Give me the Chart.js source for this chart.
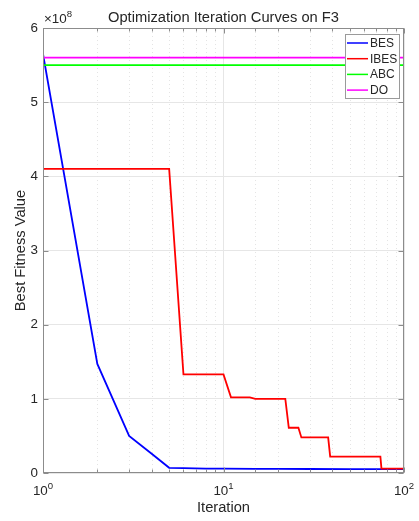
<!DOCTYPE html>
<html>
<head>
<meta charset="utf-8">
<script src="https://cdn.jsdelivr.net/npm/chart.js@4"></script>
<style>
  html, body { margin: 0; padding: 0; background: #fff; }
  #wrap { width: 419px; height: 521px; }
</style>
</head>
<body>
<div id="wrap"><canvas id="chart" width="419" height="521"></canvas></div>
<script>
// values (iteration -> best fitness)
let besIter = [1, 2, 3, 4, 5, 6, 8, 10, 15, 20, 30, 50, 100];
let besValues = [5.65e8, 1.47e8, 0.5e8, 0.26e8, 0.07e8, 0.065e8, 0.06e8, 0.058e8, 0.056e8, 0.055e8, 0.054e8, 0.053e8, 0.052e8];

let ibesIter = [1, 5, 6, 10, 11, 14, 15, 22, 23, 26, 27, 38, 39, 74, 75, 100];
let ibesValues = [4.1e8, 4.1e8, 1.33e8, 1.33e8, 1.02e8, 1.02e8, 1.0e8, 1.0e8, 0.61e8, 0.61e8, 0.48e8, 0.48e8, 0.22e8, 0.22e8, 0.06e8, 0.06e8];

let abcIter = [1, 100];
let abcValues = [5.5e8, 5.5e8];

let doIter = [1, 100];
let doValues = [5.6e8, 5.6e8];

let yTicks = [0, 1, 2, 3, 4, 5, 6];   // in units of 1e8
let xMajorTicks = [1, 10, 100];

let fontName = '"Liberation Sans", Arial, sans-serif';
let textColor = '#262626';
let axisColor = '#8c8c8c';

toPoints = (xs, ys) => xs.map((x, i) => ({ x: x, y: ys[i] }));

isMajor = v => Math.abs(Math.log10(v) - Math.round(Math.log10(v))) < 1e-9;

// box, inward ticks, minor grid, title, exponent, x labels, legend
let decor = {
  id: 'decor',
  beforeDatasetsDraw(chart) {
    let { ctx, chartArea: a, scales: { x } } = chart;
    ctx.save();
    ctx.strokeStyle = '#e4e4e4';
    ctx.lineWidth = 1;
    ctx.setLineDash([1, 3]);
    x.ticks.forEach(t => {
      if (isMajor(t.value)) return;
      let px = Math.round(x.getPixelForValue(t.value)) + 0.5;
      ctx.beginPath();
      ctx.moveTo(px, a.top);
      ctx.lineTo(px, a.bottom);
      ctx.stroke();
    });
    ctx.restore();
  },
  afterDraw(chart) {
    let { ctx, chartArea: a, scales: { x, y } } = chart;
    let l = Math.round(a.left) + 0.5, r = Math.round(a.right) - 0.5;
    let t = Math.round(a.top) + 0.5, b = Math.round(a.bottom) - 0.5;
    ctx.save();

    // axes box
    ctx.strokeStyle = axisColor;
    ctx.lineWidth = 1;
    ctx.strokeRect(l, t, r - l, b - t);

    // inward ticks
    ctx.beginPath();
    y.ticks.forEach(tk => {
      let py = Math.round(y.getPixelForValue(tk.value)) + 0.5;
      ctx.moveTo(l, py); ctx.lineTo(l + 5, py);
      ctx.moveTo(r, py); ctx.lineTo(r - 5, py);
    });
    x.ticks.forEach(tk => {
      let px = Math.round(x.getPixelForValue(tk.value)) + 0.5;
      let len = isMajor(tk.value) ? 5 : 3;
      ctx.moveTo(px, b); ctx.lineTo(px, b - len);
      ctx.moveTo(px, t); ctx.lineTo(px, t + len);
    });
    ctx.stroke();

    // title
    ctx.fillStyle = textColor;
    ctx.font = '14.7px ' + fontName;
    ctx.textAlign = 'center';
    ctx.textBaseline = 'alphabetic';
    ctx.fillText('Optimization Iteration Curves on F3', (a.left + a.right) / 2, 22);

    // exponent label
    ctx.textAlign = 'left';
    ctx.font = '13.4px ' + fontName;
    ctx.fillText('\u00d710', a.left + 1, 23);
    let w = ctx.measureText('\u00d710').width;
    ctx.font = '9.6px ' + fontName;
    ctx.fillText('8', a.left + 1 + w, 17);

    // x tick labels 10^n
    xMajorTicks.forEach(v => {
      let px = x.getPixelForValue(v);
      let exp = String(Math.round(Math.log10(v)));
      ctx.font = '13.4px ' + fontName;
      let w1 = ctx.measureText('10').width;
      ctx.font = '9.6px ' + fontName;
      let w2 = ctx.measureText(exp).width;
      let start = px - (w1 + w2) / 2;
      ctx.font = '13.4px ' + fontName;
      ctx.fillText('10', start, 495);
      ctx.font = '9.6px ' + fontName;
      ctx.fillText(exp, start + w1, 489);
    });

    // legend
    let lx = 345.5, ly = 34.5, lw = 54, lh = 64;
    ctx.fillStyle = '#fff';
    ctx.fillRect(lx, ly, lw, lh);
    ctx.strokeStyle = '#9a9a9a';
    ctx.strokeRect(lx, ly, lw, lh);
    ctx.font = '12px ' + fontName;
    ctx.textBaseline = 'middle';
    chart.data.datasets.forEach((ds, i) => {
      let ry = 43 + i * 15.7;
      ctx.strokeStyle = ds.borderColor;
      ctx.lineWidth = 1.5;
      ctx.beginPath();
      ctx.moveTo(lx + 1.5, ry);
      ctx.lineTo(lx + 22.5, ry);
      ctx.stroke();
      ctx.fillStyle = textColor;
      ctx.fillText(ds.label, lx + 24.5, ry + 0.5);
    });

    ctx.restore();
  }
};

let chart = new Chart(document.getElementById('chart').getContext('2d'), {
  type: 'line',
  data: {
    datasets: [
      { label: 'BES', data: toPoints(besIter, besValues), borderColor: '#0000ff', order: 4 },
      { label: 'IBES', data: toPoints(ibesIter, ibesValues), borderColor: '#ff0000', order: 3 },
      { label: 'ABC', data: toPoints(abcIter, abcValues), borderColor: '#00ff00', order: 2 },
      { label: 'DO', data: toPoints(doIter, doValues), borderColor: '#ff00ff', order: 1 }
    ]
  },
  options: {
    responsive: false,
    animation: false,
    devicePixelRatio: 1,
    layout: { padding: { top: 28, right: 15, left: 0, bottom: 0 } },
    elements: {
      line: { borderWidth: 1.8, tension: 0, fill: false },
      point: { radius: 0 }
    },
    plugins: {
      legend: { display: false },
      tooltip: { enabled: false },
      title: { display: false }
    },
    scales: {
      x: {
        type: 'logarithmic',
        min: 1,
        max: 100,
        afterFit: s => { s.height = 48; },
        border: { display: false },
        grid: {
          drawTicks: false,
          color: c => (c.tick && isMajor(c.tick.value)) ? '#e6e6e6' : 'rgba(0,0,0,0)'
        },
        ticks: { autoSkip: false, maxRotation: 0, callback: () => '' },
        title: {
          display: true,
          text: 'Iteration',
          color: textColor,
          font: { family: fontName, size: 14.7 },
          padding: { top: 0, bottom: 4 }
        }
      },
      y: {
        min: 0,
        max: 6e8,
        afterFit: s => { s.width = 43; },
        afterBuildTicks: s => { s.ticks = yTicks.map(v => ({ value: v * 1e8 })); },
        border: { display: false },
        grid: { drawTicks: false, color: '#e6e6e6' },
        ticks: {
          padding: 5,
          color: textColor,
          font: { family: fontName, size: 13.4 },
          callback: v => String(Math.round(v / 1e8))
        },
        title: {
          display: true,
          text: 'Best Fitness Value',
          color: textColor,
          font: { family: fontName, size: 14.7 },
          padding: { top: 12, bottom: 0 }
        }
      }
    }
  },
  plugins: [decor]
});
</script>
</body>
</html>
